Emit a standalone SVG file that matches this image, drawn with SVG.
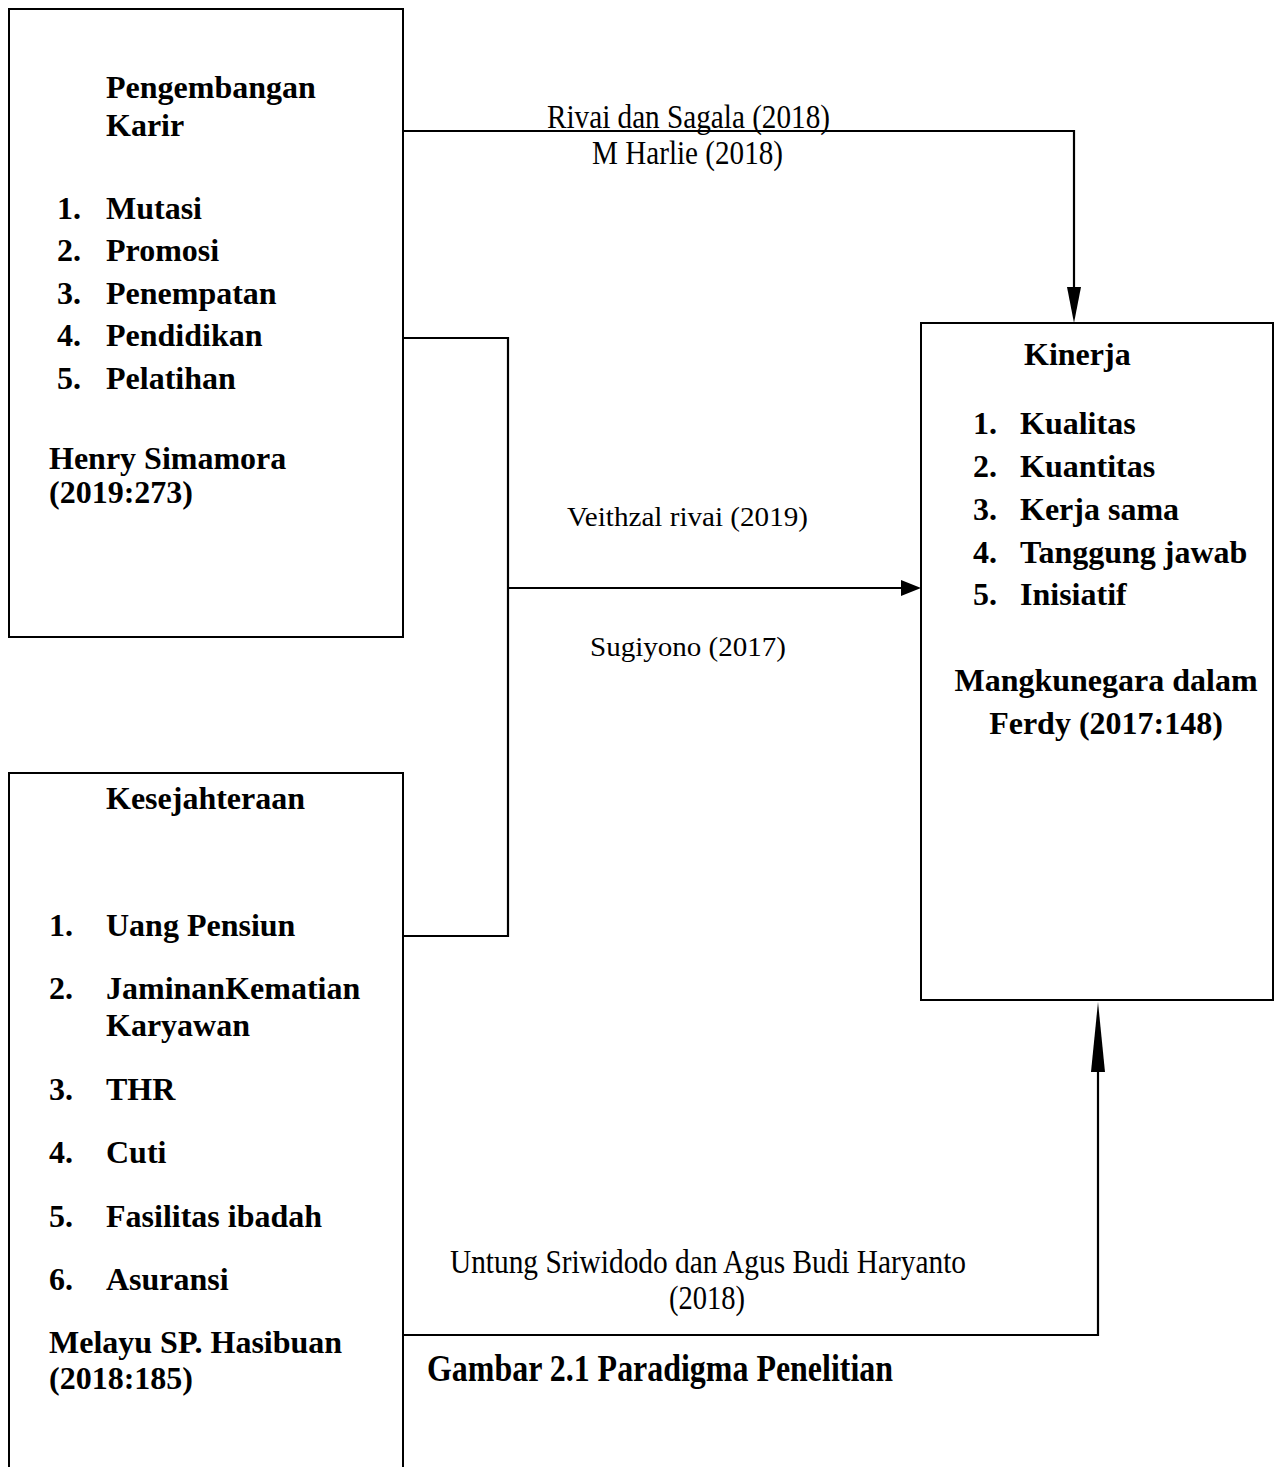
<svg xmlns="http://www.w3.org/2000/svg" width="1279" height="1467" viewBox="0 0 1279 1467">
<style>
.box{fill:#fff;stroke:#000;stroke-width:2}
.ln{fill:none;stroke:#000;stroke-width:2.2}
.ah{fill:#000;stroke:none}
.b{font-family:"Liberation Serif","Times New Roman",serif;font-weight:bold;font-size:32px;fill:#000}
.r{font-family:"Liberation Serif","Times New Roman",serif;font-size:28px;fill:#000}
.n{font-family:"Liberation Serif","Times New Roman",serif;font-size:33px;fill:#000}
.c{font-family:"Liberation Serif","Times New Roman",serif;font-weight:bold;font-size:37px;fill:#000}
</style>
<rect width="1279" height="1467" fill="#fff"/>
<g id="connectors">
<polyline class="ln" points="403,131 1074,131 1074,300"/>
<polygon class="ah" points="1067,287 1081,287 1074,323"/>
<polyline class="ln" points="403,338 508,338 508,936 403,936"/>
<line class="ln" x1="508" y1="588" x2="902" y2="588"/>
<polygon class="ah" points="901,580 901,596 921,588"/>
<polyline class="ln" points="403,1335 1098,1335 1098,1060"/>
<polygon class="ah" points="1091,1072 1105,1072 1098,1002"/>
<text class="n" x="547" y="128" textLength="283" lengthAdjust="spacingAndGlyphs">Rivai dan Sagala (2018)</text>
<text class="n" x="592" y="164" textLength="191" lengthAdjust="spacingAndGlyphs">M Harlie (2018)</text>
<text class="r" x="567" y="526" textLength="241" lengthAdjust="spacingAndGlyphs">Veithzal rivai (2019)</text>
<text class="r" x="590" y="656" textLength="196" lengthAdjust="spacingAndGlyphs">Sugiyono (2017)</text>
<text class="n" x="450" y="1273" textLength="516" lengthAdjust="spacingAndGlyphs">Untung Sriwidodo dan Agus Budi Haryanto</text>
<text class="n" x="669" y="1309" textLength="76" lengthAdjust="spacingAndGlyphs">(2018)</text>
</g>
<g id="node-pengembangan-karir">
<rect class="box" x="9" y="9" width="394" height="628"/>
<text class="b" x="106" y="98">Pengembangan</text>
<text class="b" x="106" y="136">Karir</text>
<text class="b" x="57" y="219">1.</text><text class="b" x="106" y="219">Mutasi</text>
<text class="b" x="57" y="261">2.</text><text class="b" x="106" y="261">Promosi</text>
<text class="b" x="57" y="304">3.</text><text class="b" x="106" y="304">Penempatan</text>
<text class="b" x="57" y="346">4.</text><text class="b" x="106" y="346">Pendidikan</text>
<text class="b" x="57" y="389">5.</text><text class="b" x="106" y="389">Pelatihan</text>
<text class="b" x="49" y="469">Henry Simamora</text>
<text class="b" x="49" y="503">(2019:273)</text>
</g>
<g id="node-kesejahteraan">
<rect class="box" x="9" y="773" width="394" height="710"/>
<text class="b" x="106" y="809">Kesejahteraan</text>
<text class="b" x="49" y="936">1.</text><text class="b" x="106" y="936">Uang Pensiun</text>
<text class="b" x="49" y="999">2.</text><text class="b" x="106" y="999">JaminanKematian</text>
<text class="b" x="106" y="1036">Karyawan</text>
<text class="b" x="49" y="1100">3.</text><text class="b" x="106" y="1100">THR</text>
<text class="b" x="49" y="1163">4.</text><text class="b" x="106" y="1163">Cuti</text>
<text class="b" x="49" y="1227">5.</text><text class="b" x="106" y="1227">Fasilitas ibadah</text>
<text class="b" x="49" y="1290">6.</text><text class="b" x="106" y="1290">Asuransi</text>
<text class="b" x="49" y="1353">Melayu SP. Hasibuan</text>
<text class="b" x="49" y="1389">(2018:185)</text>
</g>
<g id="node-kinerja">
<rect class="box" x="921" y="323" width="352" height="677"/>
<text class="b" x="1024" y="365">Kinerja</text>
<text class="b" x="973" y="434">1.</text><text class="b" x="1020" y="434">Kualitas</text>
<text class="b" x="973" y="477">2.</text><text class="b" x="1020" y="477">Kuantitas</text>
<text class="b" x="973" y="520">3.</text><text class="b" x="1020" y="520">Kerja sama</text>
<text class="b" x="973" y="563">4.</text><text class="b" x="1020" y="563">Tanggung jawab</text>
<text class="b" x="973" y="605">5.</text><text class="b" x="1020" y="605">Inisiatif</text>
<text class="b" x="1106" y="691" text-anchor="middle">Mangkunegara dalam</text>
<text class="b" x="1106" y="734" text-anchor="middle">Ferdy (2017:148)</text>
</g>
<text class="c" x="427" y="1381" textLength="466" lengthAdjust="spacingAndGlyphs">Gambar 2.1 Paradigma Penelitian</text>
</svg>
